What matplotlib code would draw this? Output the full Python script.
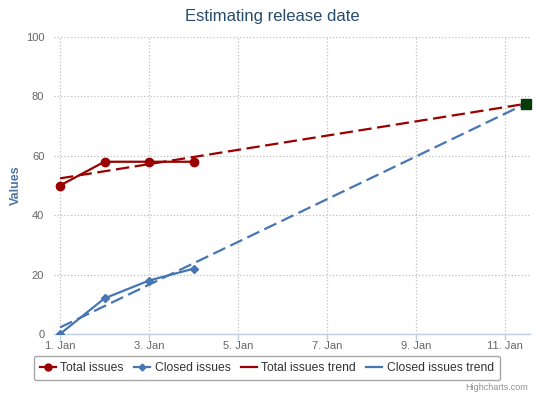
#!/usr/bin/env python3
import matplotlib
matplotlib.use("Agg")
import matplotlib.pyplot as plt
from matplotlib.lines import Line2D
from matplotlib.ticker import FixedLocator, FuncFormatter

# ===================== DATA =====================
days = [1, 2, 3, 4]
total_issues = [50, 58, 58, 58]
closed_issues = [0, 12, 18, 22]

# trend lines (start / end)
trend_days = [1, 11.46]
total_trend = [52.4, 77.5]
closed_trend = [2.2, 77.5]

release_day = 11.46
release_value = 77.5

tick_days = [1, 3, 5, 7, 9, 11]
# ================================================

RED = "#9b0000"
BLUE = "#4776b4"
GRID = "#c0c0c0"
AXIS = "#c0d0e0"
LABEL = "#666666"

plt.rcParams["font.family"] = ["Liberation Sans", "DejaVu Sans"]

fig = plt.figure(figsize=(5.44, 3.96), dpi=100)
ax = fig.add_axes([54 / 544, 1 - 334 / 396, (530 - 54) / 544, (334 - 37) / 396])

dash = (0, (6, 2.5))
ax.plot(trend_days, total_trend, color=RED, lw=1.6, linestyle=dash, zorder=3)
ax.plot(trend_days, closed_trend, color=BLUE, lw=1.6, linestyle=dash, zorder=3)
ax.plot(days, total_issues, color=RED, lw=1.6, marker="o", markersize=6, zorder=4)
ax.plot(days, closed_issues, color=BLUE, lw=1.6, marker="D", markersize=4.5, zorder=4)
ax.plot([release_day], [release_value], marker="s", markersize=6.5,
        color="#063d06", linestyle="none", zorder=5, clip_on=False)

ax.set_xlim(0.865, 11.56)
ax.set_ylim(0, 100)
ax.xaxis.set_major_locator(FixedLocator(tick_days))
ax.xaxis.set_major_formatter(FuncFormatter(lambda v, p: f"{int(v)}. Jan"))
ax.set_yticks([0, 20, 40, 60, 80, 100])

ax.grid(True, color=GRID, linestyle=":", linewidth=0.9)
ax.set_axisbelow(True)
for s in ["top", "right", "left"]:
    ax.spines[s].set_visible(False)
ax.spines["bottom"].set_color(AXIS)
ax.spines["bottom"].set_linewidth(1.0)
ax.tick_params(axis="x", colors=AXIS, length=4, width=1, labelcolor=LABEL,
               labelsize=8, pad=1)
ax.tick_params(axis="y", length=0, labelcolor=LABEL, labelsize=8, pad=7)

ax.set_ylabel("Values", color="#4d759e", fontsize=9, fontweight="bold", labelpad=3)
fig.text(0.5, 1 - 17 / 396, "Estimating release date", ha="center", va="center",
         color="#274b6d", fontsize=12)

handles = [
    Line2D([], [], color=RED, lw=1.6, marker="o", markersize=5),
    Line2D([], [], color=BLUE, lw=1.6, marker="D", markersize=3.5),
    Line2D([], [], color=RED, lw=1.6),
    Line2D([], [], color=BLUE, lw=1.6),
]
labels = ["Total issues", "Closed issues", "Total issues trend", "Closed issues trend"]
leg = fig.legend(handles, labels, loc="center", bbox_to_anchor=(267 / 544, 1 - 368 / 396),
                 ncol=4, fontsize=8.7, frameon=True, fancybox=True, edgecolor="#909090",
                 handlelength=1.3, handletextpad=0.4, columnspacing=0.85,
                 borderpad=0.5, labelcolor="#333333")
leg.get_frame().set_linewidth(1.0)

fig.text(528 / 544, 1 - 388 / 396, "Highcharts.com", ha="right", va="center",
         color="#909090", fontsize=6.5)

fig.savefig("out.png", dpi=100)
